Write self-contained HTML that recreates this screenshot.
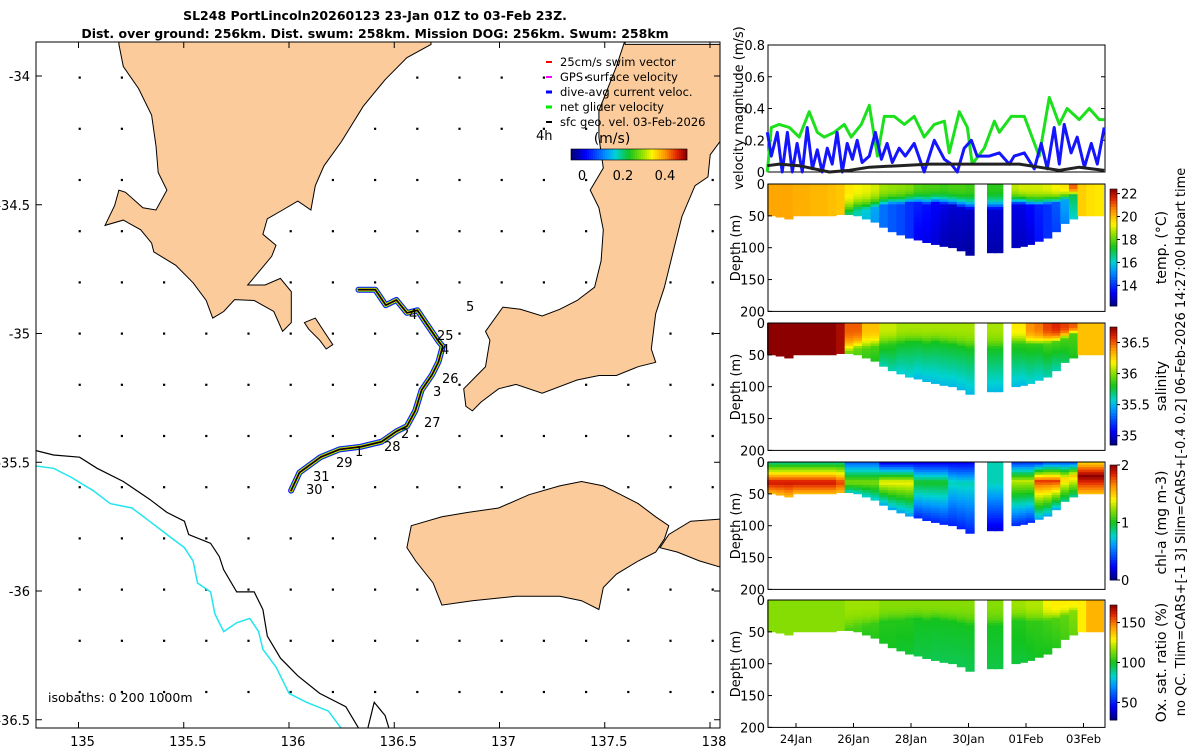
<!DOCTYPE html>
<html><head><meta charset="utf-8"><style>
body{margin:0;background:#fff;}
svg{display:block;font-family:"DejaVu Sans","Liberation Sans",sans-serif;}
</style></head><body>
<svg id="fig" width="1200" height="750" viewBox="0 0 1200 750" xmlns="http://www.w3.org/2000/svg">
<rect width="1200" height="750" fill="#fff"/>
<g id="title" font-weight="bold" font-size="12.5" text-anchor="middle">
<text x="375" y="20">SL248 PortLincoln20260123 23-Jan 01Z to 03-Feb 23Z.</text>
<text x="375" y="38">Dist. over ground: 256km. Dist. swum: 258km. Mission DOG: 256km. Swum: 258km</text>
</g>
<defs><clipPath id="mapclip"><rect x="36" y="42" width="684" height="686"/></clipPath></defs>
<g id="map">
<g clip-path="url(#mapclip)">
<g id="dots"></g>
<g fill="#fbcb9b" stroke="#000" stroke-width="1">
<path d="M118.9,40 L118.9,44.4 L123.3,66.5 L138.6,88.6 L151.6,115.1 L156,146 L158.2,172.5 L166.9,190.1 L156,210 L142.9,207.8 L125.5,192.3 L118.9,190.1 L114.6,205.6 L105,225.4 L123.3,220.1 L140.7,229.8 L151.6,243.1 L153.8,251.9 L175.6,265.2 L193.1,282.8 L206.2,300.5 L212.7,318.1 L223.7,311.5 L234.6,299.6 L254.2,300.5 L273.8,311.5 L282.6,331.4 L291.3,322.6 L291.3,291.7 L280.4,278.4 L265.1,285 L247.7,285 L260.7,269.6 L271.7,256.3 L276,245.3 L262.9,234.3 L267.3,218.8 L282.6,210 L297.8,201.1 L310.9,210 L315.3,185.7 L324,165.8 L341.5,141.5 L363.3,106.2 L385.1,79.7 L406.9,57.7 L431,44.4 L431,40 Z"/>
<path d="M304.4,322.6 L315.3,318.1 L324,331.4 L332.8,344.6 L326.2,349 L319.7,340.2 L308.7,329.2 Z"/>
<path d="M625.1,40 L625.1,44.4 L720,44.4 L720,141.5 L710.2,154.8 L708,176.9 L695,185.7 L681.9,216.6 L673.1,251.9 L664.4,287.2 L655.7,313.7 L651.3,349 L655.7,362.3 L638.2,366.7 L616.4,375.5 L599,375.5 L577.1,380 L542.2,393.2 L516,384.4 L498.6,388.8 L481.1,402 L472.4,410.9 L465.9,406.4 L463.7,388.8 L476.8,375.5 L485.5,366.7 L489.9,340.2 L485.5,331.4 L502.9,307.1 L520.4,309.3 L542.2,316 L559.7,309.3 L577.1,300.5 L594.6,287.2 L601.1,260.8 L603.3,229.8 L598.9,207.8 L590.2,190.1 L603.3,168 L598.9,137.1 L598.9,110.6 L607.7,88.6 L616.4,66.5 Z"/>
<path d="M411.3,525.7 L441.9,516.8 L468,512.4 L498.6,508 L529.1,494.7 L559.7,485.9 L581.5,481.5 L603.3,485.9 L620.8,494.7 L638.2,503.6 L655.7,516.8 L668.8,525.7 L664.4,538.9 L655.7,552.1 L638.2,561 L616.4,574.2 L603.3,587.5 L598.9,609.5 L581.5,600.7 L559.7,596.3 L516,596.3 L472.4,600.7 L441.9,605.1 L433.1,583 L415.7,561 L406.9,547.7 Z"/>
<path d="M690.6,521.2 L722,519 L722,567.6 L699.3,560.9 L677.5,552.1 L660,547.7 L668.8,534.5 Z"/>
</g>
<polyline fill="none" stroke="#000" stroke-width="1.2" points="36,450.6 53.5,455 79.6,457.2 97.1,468.3 123.3,481.5 149.5,499.2 166.9,512.4 184.4,521.2 188.7,534.5 210.6,543.3 219.3,556.6 223.7,569.8 236.7,591.9 254.2,591.9 262.9,609.5 267.3,636 280.4,658.1 297.8,675.8 319.7,693.4 345.8,706.7 358.9,728.7"/>
<polyline fill="none" stroke="#000" stroke-width="1.2" points="367.7,728.7 374.2,702.3 385.1,715.5 389.5,730"/>
<polyline fill="none" stroke="#22e5ee" stroke-width="1.5" points="36,466 53.5,468.3 70.9,477.1 92.7,490.3 110.2,503.6 132,508 149.5,521.2 166.9,534.5 184.4,547.7 193.1,561 197.5,583 210.6,591.9 214.9,614 223.7,631.6 236.7,622.8 249.8,618.4 258.6,631.6 262.9,649.3 276,667 289.1,693.4 306.6,702.3 328.4,711.1 341.5,728.7"/>
<g id="track"></g>
<g font-size="13">
<text x="409" y="319">4</text><text x="437" y="340">25</text><text x="441" y="354">4</text>
<text x="442" y="383">26</text><text x="433" y="396">3</text><text x="424" y="427">27</text>
<text x="401" y="438">2</text><text x="384" y="451">28</text><text x="355" y="456">1</text>
<text x="336" y="467">29</text><text x="313" y="481">31</text><text x="306" y="494">30</text>
<text x="466" y="311">5</text><text x="536" y="140">4h</text>
</g>
</g>
<rect x="36" y="42" width="684" height="686" fill="none" stroke="#000" stroke-width="1"/>
<g id="mapticks" font-size="13"></g>
<g font-size="11.5">
<line x1="546" y1="62" x2="552" y2="62" stroke="#f00" stroke-width="2"/><text x="560" y="66">25cm/s swim vector</text>
<line x1="546" y1="77" x2="552" y2="77" stroke="#f0f" stroke-width="2"/><text x="560" y="81">GPS surface velocity</text>
<line x1="546" y1="92" x2="552" y2="92" stroke="#00f" stroke-width="3"/><text x="560" y="96">dive-avg current veloc.</text>
<line x1="546" y1="107" x2="552" y2="107" stroke="#0e0" stroke-width="3"/><text x="560" y="111">net glider velocity</text>
<line x1="546" y1="122" x2="552" y2="122" stroke="#000" stroke-width="2"/><text x="560" y="126">sfc geo. vel. 03-Feb-2026</text>
<text x="612" y="143" font-size="14" text-anchor="middle">(m/s)</text>
<g id="speedcb"></g>
<text x="582" y="180" text-anchor="middle" font-size="13">0</text>
<text x="623" y="180" text-anchor="middle" font-size="13">0.2</text>
<text x="665" y="180" text-anchor="middle" font-size="13">0.4</text>
</g>
<text x="48" y="702" font-size="12.5">isobaths: 0   200  1000m</text>
</g>

<g id="vel"></g>
<g id="sections"></g>
<text transform="translate(1185,442) rotate(-90)" font-size="13" text-anchor="middle">no QC. Tlim=CARS+[-1 3] Slim=CARS+[-0.4 0.2] 06-Feb-2026 14:27:00 Hobart time</text>
</svg>
<script>
// ---------- data ----------
const trackLon = [136.33,136.41,136.46,136.51,136.56,136.61,136.66,136.71,136.73,136.71,136.68,136.63,136.60,136.56,136.51,136.44,136.34,136.24,136.15,136.05,136.01];
const trackLat = [-34.83,-34.83,-34.89,-34.87,-34.92,-34.91,-34.97,-35.03,-35.05,-35.11,-35.16,-35.22,-35.30,-35.36,-35.38,-35.42,-35.44,-35.45,-35.48,-35.54,-35.61];
const lonTicks = [135,135.5,136,136.5,137,137.5,138];
const latTicks = [-34,-34.5,-35,-35.5,-36,-36.5];

const greenDays = [0,.14,.42,.77,1.11,1.46,1.74,1.98,2.33,2.68,2.92,3.27,3.55,3.83,4.07,4.42,4.77,5.11,5.46,5.81,6.16,6.33,6.68,6.96,7.13,7.55,7.9,8.07,8.49,8.94,9.46,9.81,10.16,10.43,10.85,11.2,11.55,11.72];
const greenVals = [0.0,0.28,0.30,0.28,0.22,0.38,0.25,0.22,0.25,0.30,0.22,0.30,0.42,0.10,0.35,0.35,0.30,0.35,0.22,0.30,0.32,0.12,0.38,0.28,0.05,0.15,0.32,0.25,0.35,0.35,0.10,0.47,0.30,0.40,0.33,0.40,0.33,0.33];
const blueDays = [0,.14,.35,.52,.7,.87,1.04,1.22,1.39,1.57,1.74,1.91,2.09,2.26,2.43,2.61,2.78,2.96,3.13,3.3,3.55,3.76,3.97,4.17,4.35,4.59,4.8,5.11,5.46,5.81,6.16,6.4,6.61,6.85,7.1,7.3,7.72,8.07,8.42,8.59,8.94,9.29,9.53,9.74,9.98,10.16,10.33,10.57,10.78,11.03,11.27,11.48,11.72];
const blueVals = [0.25,0.10,0.25,0.0,0.25,0.0,0.18,0.0,0.28,0.02,0.14,0.0,0.15,0.05,0.25,0.0,0.18,0.08,0.20,0.06,0.10,0.25,0.08,0.18,0.06,0.15,0.10,0.18,0.0,0.20,0.08,0.05,0.0,0.15,0.20,0.10,0.10,0.12,0.05,0.10,0.12,0.02,0.18,0.02,0.28,0.05,0.30,0.12,0.22,0.03,0.18,0.05,0.28];
const blackDays = [0,.42,1.11,2.16,2.85,3.55,4.59,5.63,6.68,7.72,8.77,9.46,10.16,10.85,11.72];
const blackVals = [0.04,0.05,0.04,0.0,0.01,0.03,0.04,0.05,0.05,0.05,0.05,0.03,0.01,0.03,0.01];
const velTicks = [0,0.2,0.4,0.6,0.8];

const profDays = [0.15,0.45,0.75,1.05,1.35,1.65,1.95,2.25,2.55,2.85,3.15,3.45,3.75,4.05,4.35,4.65,4.95,5.25,5.55,5.85,6.15,6.45,6.75,7.05,7.35,7.8,8.05,8.35,8.65,8.9,9.15,9.45,9.75,10.05,10.35,10.65,10.95,11.25,11.55];
const bottomDepth = [50,52,55,50,50,50,50,50,48,48,50,55,60,68,75,80,85,88,92,95,98,100,105,112,null,108,108,null,100,98,95,90,85,75,62,55,50,50,50];
const mixedDepth = [50,52,55,50,50,50,50,50,48,42,38,38,35,32,30,30,28,28,30,28,30,32,35,38,null,38,38,null,30,30,32,32,30,28,22,15,50,50,50];
const chlPeakDepth = [30,30,30,30,30,30,30,30,30,30,30,30,30,30,30,30,30,30,30,30,30,30,32,32,null,30,30,null,28,28,28,28,28,28,25,20,20,20,20];
const tempSurf = [20.3,20.3,20.3,20.2,20.2,20.1,20.1,20.0,19.9,19.5,19.3,19.2,19.0,18.6,18.5,18.4,18.3,17.9,17.8,17.8,17.7,17.8,17.8,17.7,null,17.5,17.5,null,18.8,19.0,19.0,19.0,19.1,19.3,19.5,21.0,19.8,19.6,19.5];
const tempSub = [20.3,20.3,20.3,20.2,20.2,20.1,20.1,20.0,19.9,17.0,16.5,16.0,15.5,14.8,14.5,14.3,14.0,13.8,13.6,13.4,13.2,13.0,13.0,12.9,null,13.0,13.0,null,13.2,13.2,13.5,13.8,14.0,14.5,15.5,17.0,19.8,19.6,19.5];
const tempDeep = [20.3,20.3,20.3,20.2,20.2,20.1,20.1,20.0,19.9,16.5,16.2,15.8,15.3,14.8,14.5,14.3,14.0,13.3,13.2,13.0,12.7,12.6,12.6,12.5,null,12.6,12.6,null,12.8,12.8,13.0,13.6,14.0,14.2,15.0,16.0,19.8,19.6,19.5];
const salSurf = [36.75,36.75,36.75,36.75,36.75,36.75,36.75,36.75,36.7,36.5,36.5,36.3,36.3,36.1,36.1,36.05,36.05,36.05,36.05,36.05,36.05,36.05,36.05,36.05,null,36.05,36.05,null,36.2,36.2,36.4,36.45,36.55,36.6,36.55,36.5,36.3,36.3,36.3];
const salSub = [36.75,36.75,36.75,36.75,36.75,36.75,36.75,36.75,36.7,36.0,35.95,35.9,35.9,35.85,35.85,35.8,35.8,35.8,35.8,35.8,35.8,35.8,35.8,35.8,null,35.8,35.8,null,35.85,35.85,35.85,35.85,35.9,35.9,35.9,35.9,36.3,36.3,36.3];
const salDeep = [36.75,36.75,36.75,36.75,36.75,36.75,36.75,36.75,36.7,35.9,35.9,35.85,35.8,35.6,35.6,35.55,35.55,35.5,35.5,35.5,35.5,35.5,35.5,35.5,null,35.5,35.5,null,35.5,35.5,35.55,35.55,35.6,35.6,35.7,35.8,36.3,36.3,36.3];
const chlSurf = [0.9,0.9,0.9,0.9,0.9,0.9,0.9,0.9,0.9,0.5,0.5,0.5,0.5,0.25,0.25,0.25,0.25,0.25,0.25,0.25,0.25,0.25,0.25,0.25,null,0.8,0.8,null,0.4,0.4,0.4,0.4,0.5,0.5,0.5,0.5,1.5,1.5,1.5];
const chlSub = [1.9,1.9,1.9,1.9,1.9,1.9,1.9,1.9,1.8,1.2,1.2,1.2,1.2,1.4,1.4,1.4,1.4,1.0,1.0,1.0,1.0,0.8,0.8,0.8,null,0.8,0.8,null,1.3,1.3,1.3,1.8,1.8,1.8,1.5,1.5,2.0,2.0,2.0];
const chlDeep = [1.5,1.5,1.5,1.5,1.5,1.5,1.5,1.5,1.5,0.7,0.7,0.7,0.7,0.6,0.6,0.6,0.6,0.3,0.3,0.3,0.3,0.3,0.3,0.3,null,0.15,0.15,null,0.3,0.3,0.3,0.6,0.6,0.6,0.8,0.8,1.5,1.5,1.5];
const oxSurf = [115,115,115,115,115,115,115,115,115,118,118,118,118,115,115,115,115,115,115,115,115,115,115,115,null,115,115,null,118,118,120,120,128,130,130,130,130,140,140];
const oxSub = [115,115,115,115,115,115,115,115,115,108,108,105,105,102,102,102,102,100,100,100,100,100,100,100,null,100,100,null,102,102,104,104,106,108,110,115,130,140,140];
const oxDeep = [115,115,115,115,115,115,115,115,115,105,105,102,102,100,100,98,98,96,96,95,95,95,95,95,null,96,96,null,97,97,98,100,100,102,106,110,130,140,140];
const depthTicks = [0,50,100,150,200];
const dateLabels = ["24Jan","26Jan","28Jan","30Jan","01Feb","03Feb"];
const dateDays = [1,3,5,7,9,11];

// ---------- helpers ----------
const NS = "http://www.w3.org/2000/svg";
function mk(tag, attrs, parent){const e=document.createElementNS(NS,tag);for(const k in attrs)e.setAttribute(k,attrs[k]);parent.appendChild(e);return e;}
const cmapStops=[[0,[0,0,128]],[0.12,[0,0,255]],[0.3,[0,150,255]],[0.38,[0,210,210]],[0.5,[20,195,30]],[0.62,[150,225,0]],[0.7,[255,245,0]],[0.82,[255,145,0]],[0.92,[225,35,0]],[1,[140,0,0]]];
function jet(t){t=Math.max(0,Math.min(1,t));
 for(let i=1;i<cmapStops.length;i++){const [t1,c1]=cmapStops[i];if(t<=t1){const [t0,c0]=cmapStops[i-1];const f=(t-t0)/(t1-t0);
  return `rgb(${Math.round(c0[0]+(c1[0]-c0[0])*f)},${Math.round(c0[1]+(c1[1]-c0[1])*f)},${Math.round(c0[2]+(c1[2]-c0[2])*f)})`;}}
 return 'rgb(140,0,0)';}
const lon2x = lon => 289 + (lon-136)*210.5;
const lat2y = lat => 76 + (-34-lat)*257.5;
const day2x = d => 767.25 + d*28.75;

// ---------- map ----------
const dots=document.getElementById('dots');
for(let gx=79.6; gx<720; gx+=42.2){for(let gy=77.5; gy<728; gy+=51.2){
 const d=mk('rect',{x:gx-1,y:gy-1,width:2.2,height:2.2,fill:'#000'},dots);
 
 
}}
const trk=document.getElementById('track');
const pts=trackLon.map((l,i)=>lon2x(l).toFixed(1)+','+lat2y(trackLat[i]).toFixed(1)).join(' ');
[['#1414ff',6],['#1de01d',4],['#ffd400',3],['#ff8c00',1.8],['#000',1.6]].forEach(([c,w])=>{
 const p=mk('polyline',{points:pts,fill:'none',stroke:c,'stroke-width':w,'stroke-linejoin':'round','stroke-linecap':'round'},trk);
 
 
});
const mt=document.getElementById('mapticks');
lonTicks.forEach(l=>{const x=lon2x(l);
 mk('line',{x1:x,y1:728,x2:x,y2:722,stroke:'#000'},mt);mk('line',{x1:x,y1:42,x2:x,y2:48,stroke:'#000'},mt);
 const t=mk('text',{x:x+4,y:746,'text-anchor':'middle'},mt);t.textContent=l;
 
 
});
latTicks.forEach(l=>{const y=lat2y(l);
 mk('line',{x1:36,y1:y,x2:42,y2:y,stroke:'#000'},mt);mk('line',{x1:720,y1:y,x2:714,y2:y,stroke:'#000'},mt);
 const t=mk('text',{x:30,y:y+5,'text-anchor':'end'},mt);t.textContent=l;
 
 
});
const scb=document.getElementById('speedcb');
for(let i=0;i<58;i++){mk('rect',{x:571+i*2,y:149,width:2.2,height:11,fill:jet(i/57)},scb);}
mk('rect',{x:571,y:149,width:116,height:11,fill:'none',stroke:'#000','stroke-width':0.6},scb);

// ---------- velocity panel ----------
const vel=document.getElementById('vel');
const vy = v => 172 - v*158.75;
mk('rect',{x:768,y:45,width:337,height:127,fill:'none',stroke:'#000'},vel);
velTicks.forEach(v=>{const y=vy(v);
 mk('line',{x1:768,y1:y,x2:772,y2:y,stroke:'#000'},vel);mk('line',{x1:1105,y1:y,x2:1101,y2:y,stroke:'#000'},vel);
 const t=mk('text',{x:765,y:y+5,'text-anchor':'end','font-size':13},vel);t.textContent=v;
 
 
});
const vt=mk('text',{transform:'translate(743,108) rotate(-90)','text-anchor':'middle','font-size':13},vel);vt.textContent='velocity magnitude (m/s)';


function series(days,vals,color,w,name){
 const p=mk('polyline',{points:days.map((d,i)=>day2x(d).toFixed(1)+','+vy(vals[i]).toFixed(1)).join(' '),fill:'none',stroke:color,'stroke-width':w,'stroke-linejoin':'round'},vel);
 
 
}
series(greenDays,greenVals,'#1de01d',3,'net-glider-velocity-line');
series(blueDays,blueVals,'#1414ff',3,'dive-avg-current-line');
series(blackDays,blackVals,'#222',3,'sfc-geo-velocity-line');

// ---------- sections ----------
const sec=document.getElementById('sections');
const panels=[
 {name:'temperature',y0:184,surf:tempSurf,sub:tempSub,deep:tempDeep,mid:mixedDepth,lin:false,vmin:12.2,vmax:22.4,cbTop:189,cbBot:306,ticks:[14,16,18,20,22],label:'temp. (°C)'},
 {name:'salinity',y0:323,surf:salSurf,sub:salSub,deep:salDeep,mid:mixedDepth,lin:false,vmin:34.85,vmax:36.75,cbTop:327,cbBot:445,ticks:[35,35.5,36,36.5],label:'salinity'},
 {name:'chlorophyll',y0:462,surf:chlSurf,sub:chlSub,deep:chlDeep,mid:chlPeakDepth,lin:true,vmin:0,vmax:2,cbTop:465,cbBot:580,ticks:[0,1,2],label:'chl-a (mg m-3)'},
 {name:'oxygen',y0:600,surf:oxSurf,sub:oxSub,deep:oxDeep,mid:mixedDepth,lin:false,vmin:28,vmax:172,cbTop:605,cbBot:720,ticks:[50,100,150],label:'Ox. sat. ratio (%)'}
];
const zs=0.637;
panels.forEach((P,pi)=>{
 const g=mk('g',{},sec);
 
 
 const dz=z=>P.y0+z*zs;
 const col=v=>jet((v-P.vmin)/(P.vmax-P.vmin));
 profDays.forEach((d,i)=>{
  const b=bottomDepth[i]; if(b===null) return;
  const m=Math.min(P.mid[i],b), x=day2x(d)-4.5;
  for(let z=0; z<b; z+=4){
   let v;
   if(z<=m){const f=z/Math.max(m,1); v=P.surf[i]+(P.sub[i]-P.surf[i])*(P.lin?f:Math.pow(f,3));}
   else v=P.sub[i]+(P.deep[i]-P.sub[i])*((z-m)/Math.max(b-m,1));
   const r=mk('rect',{x:x,y:dz(z),width:9.2,height:Math.min(4,b-z)*zs+0.4,fill:col(v)},g);
   
   
  }
 });
 mk('rect',{x:768,y:P.y0,width:337,height:127.4,fill:'none',stroke:'#000'},g);
 depthTicks.forEach(z=>{const y=dz(z);
  mk('line',{x1:768,y1:y,x2:772,y2:y,stroke:'#000'},g);
  const t=mk('text',{x:765,y:y+5,'text-anchor':'end','font-size':13},g);t.textContent=z;
  
  
 });
 const at=mk('text',{transform:`translate(740,${P.y0+64}) rotate(-90)`,'text-anchor':'middle','font-size':13},g);at.textContent='Depth (m)';
 
 
 const cb=mk('g',{},g);
 
 
 const n=40,h=(P.cbBot-P.cbTop)/n;
 for(let k=0;k<n;k++){mk('rect',{x:1110,y:P.cbBot-(k+1)*h,width:7,height:h+0.4,fill:jet((k+0.5)/n)},cb);}
 mk('rect',{x:1110,y:P.cbTop,width:7,height:P.cbBot-P.cbTop,fill:'none',stroke:'#000','stroke-width':0.6},cb);
 P.ticks.forEach(v=>{const y=P.cbBot-(v-P.vmin)/(P.vmax-P.vmin)*(P.cbBot-P.cbTop);
  mk('line',{x1:1117,y1:y,x2:1120,y2:y,stroke:'#000'},cb);
  const t=mk('text',{x:1121,y:y+5,'font-size':13},cb);t.textContent=v;
  
  
 });
 const cl=mk('text',{transform:`translate(1166,${(P.cbTop+P.cbBot)/2}) rotate(-90)`,'text-anchor':'middle','font-size':14},g);cl.textContent=P.label;
 
 
 if(pi===3){
  dateDays.forEach((d,k)=>{const x=day2x(d);
   mk('line',{x1:x,y1:727.4,x2:x,y2:723,stroke:'#000'},g);
   const t=mk('text',{x:x,y:743,'text-anchor':'middle','font-size':11.5},g);t.textContent=dateLabels[k];
   
   
  });
 }
});
</script>
</body></html>
